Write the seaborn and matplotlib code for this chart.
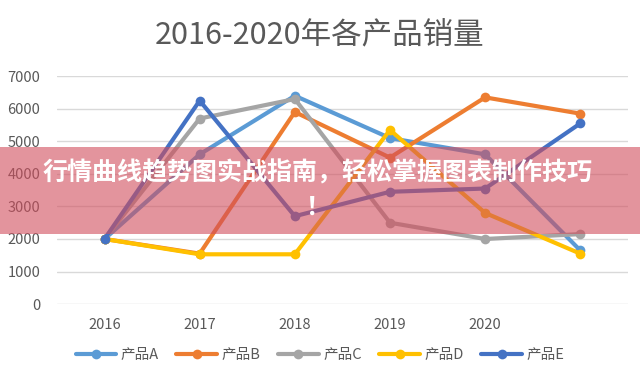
import pandas as pd
import seaborn as sns
import matplotlib.pyplot as plt
from matplotlib.lines import Line2D
from matplotlib.patches import Rectangle

# data
tick_labels = ["2016", "2017", "2018", "2019", "2020", ""]
products = ["产品A", "产品B", "产品C", "产品D", "产品E"]
sales_a = [2000, 4600, 6400, 5100, 4600, 1650]
sales_b = [2000, 1550, 5900, 4500, 6350, 5850]
sales_c = [2000, 5700, 6300, 2500, 2000, 2150]
sales_d = [2000, 1530, 1530, 5350, 2800, 1550]
sales_e = [2000, 6250, 2700, 3450, 3550, 5550]
colors = ["#5B9BD5", "#ED7D31", "#A5A5A5", "#FFC000", "#4472C4"]

title = "2016-2020年各产品销量"
banner_text = "行情曲线趋势图实战指南，轻松掌握图表制作技巧\n！"

wide = pd.DataFrame({"pos": range(len(tick_labels))})
for name, vals in zip(products, [sales_a, sales_b, sales_c, sales_d, sales_e]):
    wide[name] = vals
df = wide.melt(id_vars="pos", var_name="product", value_name="sales")

sns.set_theme(style="white")
plt.rcParams["font.family"] = ["Noto Sans CJK SC", "DejaVu Sans"]

fig = plt.figure(figsize=(6.4, 3.83), dpi=100)
ax = fig.add_axes([0.089, 0.206, 0.892, 0.595])

sns.lineplot(data=df, x="pos", y="sales", hue="product", palette=colors,
             marker="o", markersize=7, markeredgewidth=0, linewidth=3,
             legend=False, ax=ax)

ax.set_xlim(-0.5, len(tick_labels) - 0.5)
ax.set_ylim(0, 7000)
ax.set_yticks(range(0, 7001, 1000))
ax.set_xticks(range(len(tick_labels)))
ax.set_xticklabels(tick_labels)
ax.set_xlabel("")
ax.set_ylabel("")
ax.grid(axis="y", color="#D9D9D9", linewidth=1)
ax.grid(axis="x", visible=False)
for s in ax.spines.values():
    s.set_visible(False)
ax.tick_params(length=0, labelsize=10.5, labelcolor="#595959")
ax.tick_params(axis="x", pad=10)
ax.tick_params(axis="y", pad=12)

handles = [Line2D([0], [0], color=c, linewidth=3, marker="o", markersize=7,
                  markeredgewidth=0) for c in colors]
ax.legend(handles, products, loc="center", bbox_to_anchor=(0.5, 0.073),
          bbox_transform=fig.transFigure, ncol=5, frameon=False,
          fontsize=10.5, labelcolor="#595959", handlelength=2.8,
          columnspacing=1.2, handletextpad=0.3)

fig.text(0.5, 1 - 36 / 383, title, ha="center", va="center",
         fontsize=22, color="#595959")

# pink banner over the plot
fig.add_artist(Rectangle((0, 0.389), 1, 0.227, transform=fig.transFigure,
                         facecolor="#D14D5C", alpha=0.6, edgecolor="none",
                         zorder=10))
fig.text(0.497, 0.503, banner_text, ha="center", va="center",
         multialignment="center", linespacing=1.55, fontsize=18,
         fontweight="bold", color="white", zorder=11)

fig.savefig("out.png", dpi=100)
